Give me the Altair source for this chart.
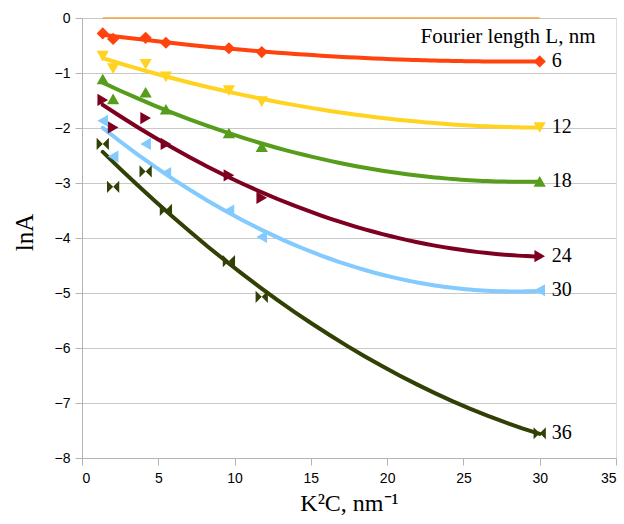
import altair as alt
import pandas as pd

# K^2C values (nm^-1) shared by all series
x_vals = [1.36, 2.04, 4.17, 5.5, 9.63, 11.78, 30]

lnA_0 = [0, 0, 0, 0, 0, 0, 0]
lnA_6 = [-0.28, -0.38, -0.36, -0.45, -0.55, -0.62, -0.79]
lnA_12 = [-0.69, -0.92, -0.84, -1.07, -1.32, -1.52, -1.99]
lnA_18 = [-1.11, -1.47, -1.35, -1.66, -2.09, -2.34, -2.97]
lnA_24 = [-1.49, -1.99, -1.82, -2.29, -2.86, -3.27, -4.33]
lnA_30 = [-1.87, -2.52, -2.29, -2.82, -3.50, -3.98, -4.95]
lnA_36 = [-2.29, -3.07, -2.79, -3.49, -4.42, -5.07, -7.55]

series = ["6", "12", "18", "24", "30", "36"]
colors = ["#ff420e", "#ffd320", "#579d1c", "#7e0021", "#83caff", "#314004"]
bowtie = "M-1,-1L0,0L-1,1ZM1,-1L0,0L1,1Z"
shapes = ["diamond", "triangle-down", "triangle-up", "triangle-right", "triangle-left", bowtie]

rows = []
for name, ys in zip(series, [lnA_6, lnA_12, lnA_18, lnA_24, lnA_30, lnA_36]):
    for xv, yv in zip(x_vals, ys):
        rows.append({"L": name, "x": xv, "y": yv})
df = pd.DataFrame(rows)
last_df = df[df["x"] == max(x_vals)]
zero_df = pd.DataFrame({"x": x_vals, "y": lnA_0})

x_scale = alt.Scale(domain=[0, 35], nice=False)
y_scale = alt.Scale(domain=[-8, 0], nice=False)
color_scale = alt.Scale(domain=series, range=colors)
shape_scale = alt.Scale(domain=series, range=shapes)

x_axis = alt.Axis(
    values=list(range(0, 36, 5)), grid=False, title="K²C, nm⁻¹",
    titleFont="Liberation Serif", titleFontSize=24, titleFontWeight="normal",
    titleColor="black", titleY=52, titleBaseline="alphabetic",
    labelFont="Liberation Sans", labelFontSize=14, labelColor="black",
    labelPadding=6, tickSize=7, tickColor="#b3b3b3", domainColor="#b3b3b3",
)
y_axis = alt.Axis(
    values=list(range(-8, 1)), grid=True, gridColor="#c8c8c8", title="lnA",
    titleFont="Liberation Serif", titleFontSize=25, titleFontWeight="normal",
    titleColor="black", titleX=-50, titleY=214, titleAngle=-90,
    titleBaseline="alphabetic", titleAlign="center",
    labelFont="Liberation Sans", labelFontSize=14, labelColor="black",
    labelPadding=5, tickSize=7, tickColor="#b3b3b3", domainColor="#b3b3b3",
)

zero_line = alt.Chart(zero_df).mark_line(color="#f5a040", strokeWidth=1.5).encode(
    x=alt.X("x:Q", scale=x_scale, axis=x_axis),
    y=alt.Y("y:Q", scale=y_scale, axis=y_axis),
)

trend = alt.Chart(df).transform_regression(
    "x", "y", groupby=["L"], method="poly", order=2
).mark_line(strokeWidth=4, strokeCap="round").encode(
    x=alt.X("x:Q", scale=x_scale),
    y=alt.Y("y:Q", scale=y_scale),
    color=alt.Color("L:N", scale=color_scale, legend=None),
    detail="L:N",
)

points = alt.Chart(df).mark_point(filled=True, size=150, opacity=1).encode(
    x=alt.X("x:Q", scale=x_scale),
    y=alt.Y("y:Q", scale=y_scale),
    color=alt.Color("L:N", scale=color_scale, legend=None),
    shape=alt.Shape("L:N", scale=shape_scale, legend=None),
)

labels = alt.Chart(last_df).mark_text(
    align="left", baseline="middle", dx=12, font="Liberation Serif",
    fontSize=20, color="black",
).encode(
    x=alt.X("x:Q", scale=x_scale),
    y=alt.Y("y:Q", scale=y_scale),
    text="L:N",
)

legend_title = alt.Chart(pd.DataFrame({"t": ["Fourier length L, nm"]})).mark_text(
    align="center", baseline="middle", font="Liberation Serif", fontSize=21,
    color="black",
).encode(x=alt.value(426), y=alt.value(19), text="t:N")

chart = alt.layer(zero_line, trend, points, labels, legend_title).properties(
    width=534, height=440,
    autosize=alt.AutoSizeParams(type="none"),
    padding={"left": 82, "top": 18, "right": 8, "bottom": 66},
).configure_view(stroke="#b3b3b3", strokeWidth=1).configure(background="white")

chart.save("out.html", embed_options={"renderer": "svg", "actions": False})
